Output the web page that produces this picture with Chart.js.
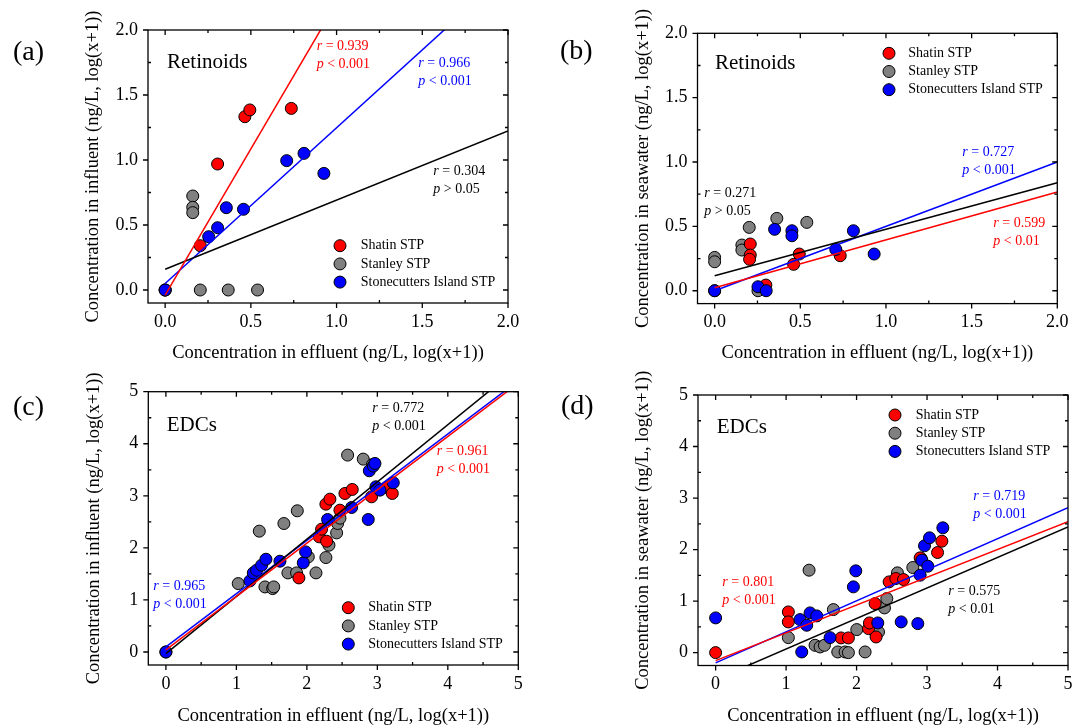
<!DOCTYPE html>
<html lang="en">
<head>
<meta charset="UTF-8">
<title>Retinoids and EDCs: effluent vs influent / seawater</title>
<script src="https://cdn.jsdelivr.net/npm/chart.js@4.4.1/dist/chart.umd.min.js"></script>
<style>
  html, body { margin: 0; padding: 0; background: #ffffff; }
  #page { position: relative; width: 1072px; height: 725px; overflow: hidden; background: #ffffff; }
  #page canvas { position: absolute; }
</style>
</head>
<body>
<div id="page">
  <canvas id="chart-a"></canvas>
  <canvas id="chart-b"></canvas>
  <canvas id="chart-c"></canvas>
  <canvas id="chart-d"></canvas>
</div>
<script>
// Fuente tipo Times para todo el grafico
const SERIF = "'Liberation Serif', 'Times New Roman', serif";
const AXIS_TITLE_SIZE = 18.5;

// Grupos (orden: Shatin, Stanley, Stonecutters)
const groupNames = ['Shatin STP', 'Stanley STP', 'Stonecutters Island STP'];
const groupColors = ['#ff0000', '#808080', '#0000ff'];
const fitColors = ['#ff0000', '#000000', '#0000ff'];
const pointOrder = [2, 3, 1];

// Etiquetas de los ejes
const retTicks = [0, 0.5, 1.0, 1.5, 2.0];
const edcTicks = [0, 1, 2, 3, 4, 5];

// (a) Retinoids: efluente vs influente  [x, y]
const retInfShatin = [[0, 0], [0.205, 0.341], [0.306, 0.969], [0.465, 1.333], [0.494, 1.385], [0.736, 1.397]];
const retInfStanley = [[0, 0], [0.161, 0.723], [0.161, 0.636], [0.161, 0.595], [0.205, 0], [0.368, 0], [0.539, 0]];
const retInfStonecutters = [[0, 0], [0.254, 0.41], [0.306, 0.479], [0.357, 0.633], [0.457, 0.621], [0.709, 0.995], [0.81, 1.051], [0.926, 0.897]];
const retInfSlope = [2.25, 0.532, 1.198];
const retInfIntercept = [-0.04, 0.16, 0.05];
const retInfR = ['0.939', '0.304', '0.966'];
const retInfP = ['< 0.001', '> 0.05', '< 0.001'];

// (b) Retinoids: efluente vs agua de mar
const retSeaShatin = [[0, 0], [0.208, 0.363], [0.208, 0.277], [0.204, 0.244], [0.299, 0.044], [0.461, 0.205], [0.494, 0.285], [0.733, 0.272]];
const retSeaStanley = [[0, 0.259], [0, 0.225], [0.159, 0.355], [0.159, 0.316], [0.202, 0.492], [0.253, 0], [0.363, 0.562], [0.538, 0.531]];
const retSeaStonecutters = [[0, 0], [0.253, 0.031], [0.301, 0], [0.35, 0.477], [0.451, 0.466], [0.451, 0.427], [0.707, 0.321], [0.81, 0.466], [0.931, 0.285]];
const retSeaSlope = [0.372, 0.361, 0.5];
const retSeaIntercept = [0.023, 0.117, 0.0];
const retSeaR = ['0.599', '0.271', '0.727'];
const retSeaP = ['< 0.01', '> 0.05', '< 0.001'];

// (c) EDCs: efluente vs influente
const edcInfShatin = [[0, 0], [1.887, 1.423], [2.176, 2.212], [2.209, 2.359], [2.28, 2.128], [2.27, 2.84], [2.327, 2.936], [2.469, 2.724], [2.54, 3.045], [2.644, 3.122], [2.918, 2.981], [3.131, 3.16], [3.212, 3.045]];
const edcInfStanley = [[1.026, 1.314], [1.325, 2.321], [1.405, 1.25], [1.514, 1.218], [1.53, 1.25], [1.674, 2.468], [1.731, 1.519], [1.854, 1.519], [1.864, 2.712], [2.02, 1.827], [2.129, 1.519], [2.27, 1.814], [2.313, 2.051], [2.422, 2.288], [2.436, 2.468], [2.47, 2.57], [2.578, 3.782], [2.8, 3.705], [2.93, 3.6]];
const edcInfStonecutters = [[0, 0], [1.192, 1.365], [1.24, 1.519], [1.287, 1.571], [1.358, 1.667], [1.419, 1.782], [1.618, 1.744], [1.949, 1.712], [1.982, 1.923], [2.294, 2.545], [2.635, 2.776], [2.871, 2.545], [2.886, 3.481], [2.943, 3.571], [2.966, 3.622], [2.98, 3.173], [3.037, 3.109], [3.226, 3.25]];
const edcInfSlope = [1.025, 1.099, 1.022];
const edcInfIntercept = [0.04, -0.03, 0.1];
const edcInfR = ['0.961', '0.772', '0.965'];
const edcInfP = ['< 0.001', '< 0.001', '< 0.001'];

// (d) EDCs: efluente vs agua de mar
const edcSeaShatin = [[0, 0], [1.032, 0.79], [1.032, 0.596], [1.78, 0.285], [1.884, 0.285], [2.169, 0.466], [2.183, 0.576], [2.263, 0.952], [2.277, 0.304], [2.462, 1.373], [2.557, 1.438], [2.666, 1.418], [2.902, 1.839], [3.149, 1.943], [3.21, 2.163]];
const edcSeaStanley = [[1.032, 0.291], [1.326, 1.6], [1.411, 0.142], [1.482, 0.11], [1.544, 0.142], [1.671, 0.835], [1.733, 0.013], [1.837, 0.013], [1.884, 0], [2.003, 0.447], [2.121, 0.013], [2.263, 0.4], [2.311, 0.4], [2.396, 0.868], [2.429, 1.049], [2.58, 1.548], [2.798, 1.652], [2.917, 1.826]];
const edcSeaStonecutters = [[0, 0.674], [1.198, 0.641], [1.222, 0.013], [1.293, 0.531], [1.34, 0.771], [1.435, 0.712], [1.624, 0.291], [1.955, 1.276], [1.989, 1.587], [2.301, 0.576], [2.633, 0.596], [2.869, 0.563], [2.902, 1.503], [2.926, 1.794], [2.964, 2.073], [3.011, 1.677], [3.035, 2.228], [3.224, 2.422]];
const edcSeaSlope = [0.539, 0.592, 0.603];
const edcSeaIntercept = [-0.155, -0.522, -0.2];
const edcSeaR = ['0.801', '0.575', '0.719'];
const edcSeaP = ['< 0.001', '< 0.01', '< 0.001'];

const X_TITLE = 'Concentration in effluent (ng/L, log(x+1))';

// Configuracion de cada panel (posiciones en pixeles de la pagina)
const panels = [
  {
    id: 'chart-a', label: '(a)', labelPos: [13, 53], title: 'Retinoids',
    box: {left: 0, top: 0, width: 536, height: 362},
    area: {left: 148, top: 30, right: 508, bottom: 303},
    yTitleX: 93.5, xTitleY: 353.3,
    min: -0.1, max: 2, ticks: retTicks, decimals: 1,
    yTitle: 'Concentration in influent (ng/L, log(x+1))',
    points: [retInfShatin, retInfStanley, retInfStonecutters],
    slopes: retInfSlope, intercepts: retInfIntercept, r: retInfR, p: retInfP,
    titlePos: [19, 32], legendPos: [192, 215.7, 212.7],
    notePos: [[168.7, 16.7], [285.3, 141.7], [270.3, 33.3]]
  },
  {
    id: 'chart-b', label: '(b)', labelPos: [560, 52], title: 'Retinoids',
    box: {left: 536, top: 0, width: 560, height: 362},
    area: {left: 697.5, top: 33.3, right: 1057.3, bottom: 303.6},
    yTitleX: 643, xTitleY: 353.3,
    min: -0.1, max: 2, ticks: retTicks, decimals: 1,
    yTitle: 'Concentration in seawater (ng/L, log(x+1))',
    points: [retSeaShatin, retSeaStanley, retSeaStonecutters],
    slopes: retSeaSlope, intercepts: retSeaIntercept, r: retSeaR, p: retSeaP,
    titlePos: [17.5, 30], legendPos: [191.5, 20, 210.8],
    notePos: [[295.8, 190], [6.8, 160], [264.8, 119.4]]
  },
  {
    id: 'chart-c', label: '(c)', labelPos: [13, 408], title: 'EDCs',
    box: {left: 0, top: 362, width: 536, height: 372},
    area: {left: 148.3, top: 391.7, right: 518.3, bottom: 665},
    yTitleX: 93.8, xTitleY: 716,
    min: -0.25, max: 5, ticks: edcTicks, decimals: 0,
    yTitle: 'Concentration in influent (ng/L, log(x+1))',
    points: [edcInfShatin, edcInfStanley, edcInfStonecutters],
    slopes: edcInfSlope, intercepts: edcInfIntercept, r: edcInfR, p: edcInfP,
    titlePos: [18.4, 33.3], legendPos: [200, 216, 220],
    notePos: [[288.4, 60], [224, 16.6], [5, 195]]
  },
  {
    id: 'chart-d', label: '(d)', labelPos: [561, 407], title: 'EDCs',
    box: {left: 536, top: 362, width: 560, height: 372},
    area: {left: 698, top: 395, right: 1068, bottom: 665.5},
    yTitleX: 643.3, xTitleY: 716,
    min: -0.25, max: 5, ticks: edcTicks, decimals: 0,
    yTitle: 'Concentration in seawater (ng/L, log(x+1))',
    points: [edcSeaShatin, edcSeaStanley, edcSeaStonecutters],
    slopes: edcSeaSlope, intercepts: edcSeaIntercept, r: edcSeaR, p: edcSeaP,
    titlePos: [18.7, 32.7], legendPos: [197, 20, 217.7],
    notePos: [[24.3, 187.3], [250.3, 196.7], [275.3, 101.7]]
  }
];

Chart.defaults.font.family = SERIF;
Chart.defaults.color = '#000';

/**
 * Escribe un texto con partes en cursiva (r, p) y partes normales.
 */
function drawMixed(ctx, parts, x, y, size, color) {
  ctx.fillStyle = color;
  let cx = x;
  parts.forEach(([text, italic]) => {
    ctx.font = `${italic ? 'italic ' : ''}${size}px ${SERIF}`;
    ctx.fillText(text, cx, y);
    cx += ctx.measureText(text).width;
  });
}

/**
 * Plugin que dibuja el marco, las marcas, la leyenda y los textos de cada panel.
 */
function makeDecor(panel) {
  return {
    id: 'panelDecor',
    afterDraw(chart) {
      const {ctx, chartArea: a, scales} = chart;
      ctx.save();

      // Marco y marcas de los ejes
      ctx.strokeStyle = '#000';
      ctx.lineWidth = 1.3;
      ctx.strokeRect(a.left, a.top, a.right - a.left, a.bottom - a.top);
      const majors = panel.ticks;
      const minors = majors.slice(1).map((v, i) => (v + majors[i]) / 2);
      ctx.beginPath();
      majors.forEach(v => {
        const px = scales.x.getPixelForValue(v);
        const py = scales.y.getPixelForValue(v);
        ctx.moveTo(px, a.bottom); ctx.lineTo(px, a.bottom + 5);
        ctx.moveTo(px, a.top); ctx.lineTo(px, a.top + 5);
        ctx.moveTo(a.left, py); ctx.lineTo(a.left - 5, py);
        ctx.moveTo(a.right, py); ctx.lineTo(a.right - 5, py);
      });
      minors.forEach(v => {
        const px = scales.x.getPixelForValue(v);
        const py = scales.y.getPixelForValue(v);
        ctx.moveTo(px, a.bottom); ctx.lineTo(px, a.bottom - 3);
        ctx.moveTo(px, a.top); ctx.lineTo(px, a.top + 3);
        ctx.moveTo(a.left, py); ctx.lineTo(a.left + 3, py);
        ctx.moveTo(a.right, py); ctx.lineTo(a.right - 3, py);
      });
      ctx.stroke();

      ctx.textBaseline = 'middle';
      ctx.textAlign = 'left';

      // Letra del panel
      ctx.fillStyle = '#000';
      ctx.font = `28px ${SERIF}`;
      ctx.fillText(panel.label, panel.labelPos[0] - panel.box.left, panel.labelPos[1] - panel.box.top);

      // Titulo interno (Retinoids / EDCs)
      ctx.font = `21px ${SERIF}`;
      ctx.fillText(panel.title, a.left + panel.titlePos[0], a.top + panel.titlePos[1]);

      // Leyenda
      const [mx, my, tx] = panel.legendPos;
      groupNames.forEach((name, i) => {
        const yy = a.top + my + i * 18.2;
        ctx.beginPath();
        ctx.arc(a.left + mx, yy, 6, 0, Math.PI * 2);
        ctx.fillStyle = groupColors[i];
        ctx.fill();
        ctx.lineWidth = 1;
        ctx.strokeStyle = '#000';
        ctx.stroke();
        ctx.fillStyle = '#000';
        ctx.font = `14px ${SERIF}`;
        ctx.fillText(name, a.left + tx, yy);
      });

      // Coeficientes r y p de cada ajuste
      panel.notePos.forEach(([nx, ny], i) => {
        drawMixed(ctx, [['r', true], [' = ' + panel.r[i], false]], a.left + nx, a.top + ny, 14, fitColors[i]);
        drawMixed(ctx, [['p', true], [' ' + panel.p[i], false]], a.left + nx, a.top + ny + 18, 14, fitColors[i]);
      });

      ctx.restore();
    }
  };
}

panels.forEach(panel => {
  const canvas = document.getElementById(panel.id);
  canvas.width = panel.box.width;
  canvas.height = panel.box.height;
  canvas.style.left = panel.box.left + 'px';
  canvas.style.top = panel.box.top + 'px';

  // Calcula el relleno para que el area del grafico caiga en su sitio
  const lh = AXIS_TITLE_SIZE * 1.2;
  const yAxisLeft = panel.yTitleX - lh / 2;
  const xAxisBottom = panel.xTitleY + lh / 2;
  const padding = {
    left: yAxisLeft - panel.box.left,
    top: panel.area.top - panel.box.top,
    right: panel.box.left + panel.box.width - panel.area.right,
    bottom: panel.box.top + panel.box.height - xAxisBottom
  };

  const pointSets = panel.points.map((pts, i) => ({
    label: groupNames[i],
    data: pts.map(([x, y]) => ({x, y})),
    backgroundColor: groupColors[i],
    borderColor: '#000',
    borderWidth: 1,
    pointRadius: 6,
    order: pointOrder[i]
  }));

  // Rectas de regresion a partir de pendiente y ordenada
  const fitSets = panel.slopes.map((m, i) => ({
    label: groupNames[i] + ' fit',
    data: [0, panel.max].map(x => ({x, y: panel.intercepts[i] + m * x})),
    showLine: true,
    pointRadius: 0,
    borderColor: fitColors[i],
    borderWidth: 1.5,
    order: 0
  }));

  const axisBase = {
    type: 'linear',
    min: panel.min,
    max: panel.max,
    grid: {display: false, drawTicks: false},
    border: {display: false},
    afterBuildTicks: s => { s.ticks = panel.ticks.map(v => ({value: v})); }
  };

  new Chart(canvas, {
    type: 'scatter',
    data: {datasets: [...fitSets, ...pointSets]},
    options: {
      responsive: false,
      animation: false,
      events: [],
      layout: {padding},
      plugins: {legend: {display: false}, tooltip: {enabled: false}},
      scales: {
        x: {
          ...axisBase,
          afterFit: s => { s.height = xAxisBottom - panel.area.bottom; },
          ticks: {padding: 8, font: {size: 18}, maxRotation: 0, autoSkip: false, callback: v => v.toFixed(panel.decimals)},
          title: {display: true, text: X_TITLE, font: {size: AXIS_TITLE_SIZE}, padding: 0}
        },
        y: {
          ...axisBase,
          afterFit: s => { s.width = panel.area.left - yAxisLeft; },
          ticks: {padding: 10, font: {size: 18}, autoSkip: false, callback: v => v.toFixed(panel.decimals)},
          title: {display: true, text: panel.yTitle, font: {size: AXIS_TITLE_SIZE}, padding: 0}
        }
      }
    },
    plugins: [makeDecor(panel)]
  });
});
</script>
</body>
</html>
